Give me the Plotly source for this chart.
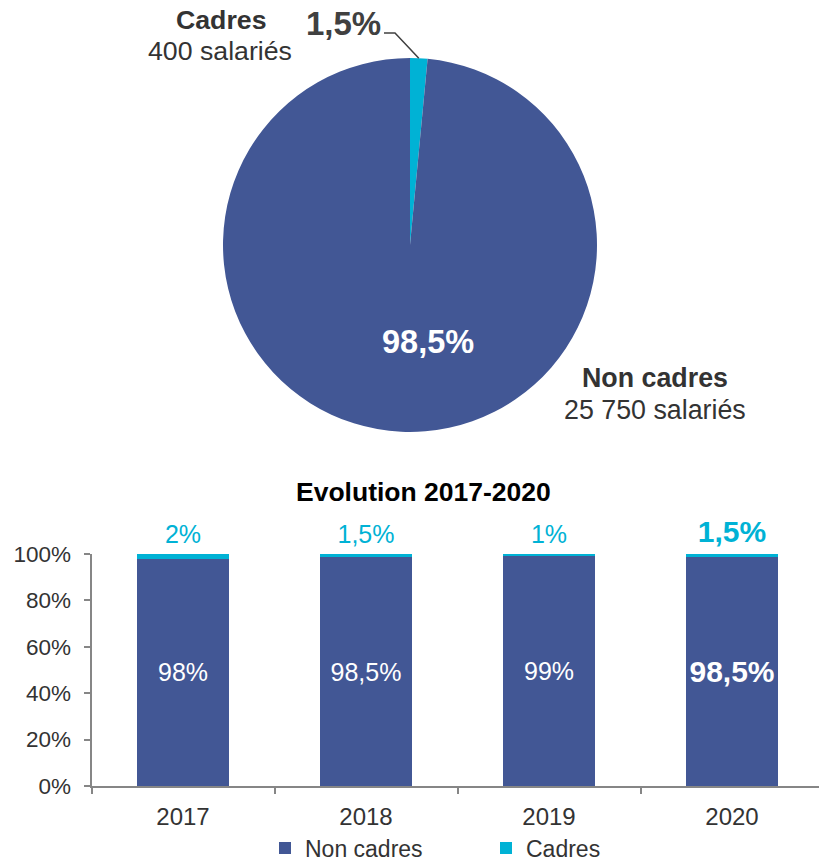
import math
import plotly.graph_objects as go

# ---- data -------------------------------------------------------------
pie_labels = ["Cadres", "Non cadres"]
pie_counts = ["400", "25 750"]
pie_share = [1.5, 98.5]

years = ["2017", "2018", "2019", "2020"]
non_cadres = [98, 98.5, 99, 98.5]
cadres = [2, 1.5, 1, 1.5]
y_ticks = [0, 20, 40, 60, 80, 100]

BLUE = "#425795"
CYAN = "#00B2D5"
DARK = "#333333"
FONT = "Liberation Sans, Arial, sans-serif"

W, H = 819, 863


def fr(v):
    """French-style percentage text."""
    s = f"{v:g}".replace(".", ",")
    return s + "%"


def py(px):
    return 1 - px / H


def pxx(px):
    return px / W


fig = go.Figure()

# ---- pie --------------------------------------------------------------
pie_left, pie_right, pie_top, pie_bottom = 223, 597, 58, 432
fig.add_trace(go.Pie(
    labels=pie_labels,
    values=pie_share,
    sort=False,
    direction="clockwise",
    rotation=0,
    marker=dict(colors=[CYAN, BLUE], line=dict(width=0)),
    textinfo="none",
    hoverinfo="label+percent",
    showlegend=False,
    domain=dict(x=[pxx(pie_left), pxx(pie_right)], y=[py(pie_bottom), py(pie_top)]),
))

cx = (pie_left + pie_right) / 2
cy = (pie_top + pie_bottom) / 2
R = (pie_right - pie_left) / 2

# leader line from the small slice's mid-angle to its label
mid_angle = math.radians(pie_share[0] / sum(pie_share) * 360 / 2)
ex = cx + R * math.sin(mid_angle)
ey = cy - R * math.cos(mid_angle)
fig.add_shape(
    type="path", xref="paper", yref="paper",
    path=f"M {pxx(384)} {py(33)} L {pxx(395)} {py(33)} L {pxx(ex)} {py(ey)}",
    line=dict(color="#404040", width=1.5),
)

annotations = [
    dict(x=pxx(221), y=py(20), text=f"<b>{pie_labels[0]}</b>",
         font=dict(size=26.7, color=DARK)),
    dict(x=pxx(220), y=py(51), text=f"{pie_counts[0]} salariés",
         font=dict(size=26.7, color=DARK)),
    dict(x=pxx(343), y=py(24), text=f"<b>{fr(pie_share[0])}</b>",
         font=dict(size=33, color="#404040")),
    dict(x=pxx(428), y=py(342), text=f"<b>{fr(pie_share[1])}</b>",
         font=dict(size=32.5, color="white")),
    dict(x=pxx(655), y=py(378), text=f"<b>{pie_labels[1]}</b>",
         font=dict(size=26.8, color=DARK)),
    dict(x=pxx(655), y=py(410), text=f"{pie_counts[1]} salariés",
         font=dict(size=26.8, color=DARK)),
    dict(x=pxx(423), y=py(492), text="<b>Evolution 2017-2020</b>",
         font=dict(size=26.5, color="black")),
]
for a in annotations:
    a.update(xref="paper", yref="paper", showarrow=False,
             xanchor="center", yanchor="middle")

# ---- stacked bars -----------------------------------------------------
last = len(years) - 1
fig.add_trace(go.Bar(
    x=years, y=non_cadres, name="Non cadres",
    marker=dict(color=BLUE, line=dict(width=0)),
    text=[f"<b>{fr(v)}</b>" if i == last else fr(v) for i, v in enumerate(non_cadres)],
    textposition="inside", insidetextanchor="middle", constraintext="none",
    textfont=dict(color="white", size=[25, 25, 25, 30], family=FONT),
    hoverinfo="x+y+name",
))
fig.add_trace(go.Bar(
    x=years, y=cadres, name="Cadres",
    marker=dict(color=CYAN, line=dict(width=0)),
    textposition="none",
    hoverinfo="x+y+name",
))

# value labels for the Cadres share, sitting on top of each stack
# (transparent markers give the text a little extra lift)
fig.add_trace(go.Scatter(
    x=years, y=[n + c for n, c in zip(non_cadres, cadres)],
    mode="markers+text",
    marker=dict(size=6, color="rgba(0,0,0,0)"),
    text=[f"<b>{fr(c)}</b>" if i == last else fr(c) for i, c in enumerate(cadres)],
    textposition="top center",
    textfont=dict(color=CYAN, size=[25, 25, 25, 30], family=FONT),
    cliponaxis=False, showlegend=False, hoverinfo="skip",
))

axis_x0 = 91.5
cat_w = 183
y0_px, y100_px = 786, 554

fig.update_layout(
    width=W, height=H,
    margin=dict(l=0, r=0, t=0, b=0, autoexpand=False),
    paper_bgcolor="white", plot_bgcolor="white",
    font=dict(family=FONT, color=DARK, size=22),
    barmode="stack", bargap=0.5,
    annotations=annotations,
    xaxis=dict(
        domain=[pxx(axis_x0), 1],
        range=[-0.5, -0.5 + (W - axis_x0) / cat_w],
        type="category", automargin=False,
        showline=True, linecolor="#868686", linewidth=2,
        ticks="outside", tickson="boundaries", ticklen=6,
        tickcolor="#868686", tickwidth=1.5,
        tickfont=dict(size=24, color=DARK),
        ticklabelstandoff=8,
        showgrid=False, zeroline=False, fixedrange=True,
    ),
    yaxis=dict(
        domain=[py(y0_px), py(y100_px)],
        range=[0, 100], automargin=False,
        tickmode="array", tickvals=y_ticks,
        ticktext=[f"{t}%" for t in y_ticks],
        showline=True, linecolor="#868686", linewidth=2,
        ticks="outside", ticklen=6, tickcolor="#868686", tickwidth=1.5,
        tickfont=dict(size=22.5, color=DARK),
        ticklabelstandoff=8,
        showgrid=False, zeroline=False, fixedrange=True,
    ),
    legend=dict(
        orientation="h", traceorder="normal",
        x=pxx(265), xanchor="left",
        y=py(848), yanchor="middle",
        font=dict(size=23, color=DARK),
        entrywidth=176, entrywidthmode="pixels",
        bgcolor="rgba(0,0,0,0)",
    ),
)

fig.write_html("out.html")
